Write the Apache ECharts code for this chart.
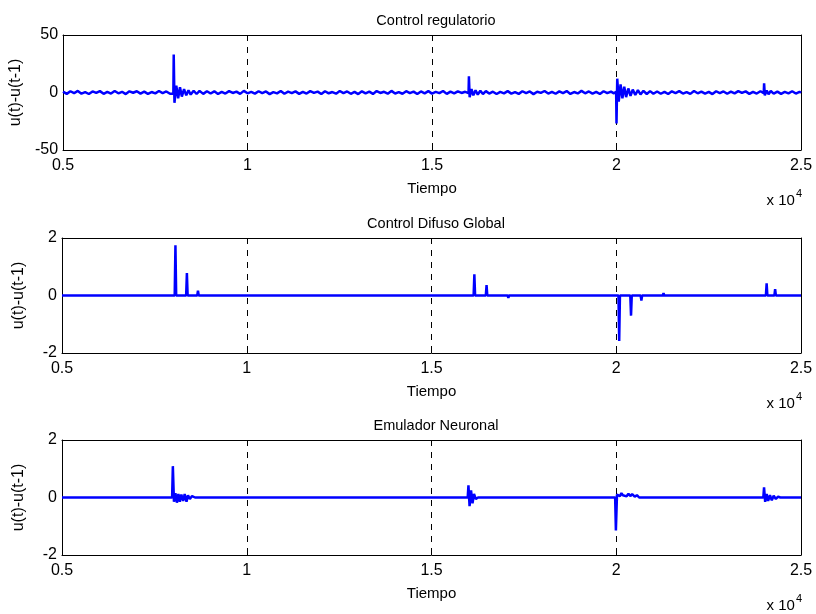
<!DOCTYPE html>
<html>
<head>
<meta charset="utf-8">
<script src="https://cdn.jsdelivr.net/npm/echarts@6/dist/echarts.min.js"></script>
<style>html,body{margin:0;padding:0;background:#fff}#c{width:816px;height:614px}</style>
</head>
<body>
<div id="c"></div>
<script>
const titles = ['Control regulatorio', 'Control Difuso Global', 'Emulador Neuronal'];
const xLabel = 'Tiempo';
const yLabel = 'u(t)-u(t-1)';
const xTicks = [5000, 10000, 15000, 20000, 25000];
const yRange1 = [-50, 50];
const yRange23 = [-2, 2];

// Control regulatorio: [t, u(t)-u(t-1)]
const regulatorio = [
 [5000,0.8],[5100,-1.2],[5200,1.1],[5300,-0.6],[5400,1.4],[5500,-1.0],[5600,0.3],[5700,-1.3],[5800,0.9],[5900,-0.4],
 [6000,1.2],[6100,-1.1],[6200,0.5],[6300,-0.9],[6400,1.3],[6500,-0.7],[6600,0.6],[6700,-1.4],[6800,1.0],[6900,-0.2],
 [7000,1.1],[7100,-1.0],[7200,0.7],[7300,-1.2],[7400,0.4],[7500,-0.8],[7600,1.3],[7700,-0.5],[7800,0.9],[7900,-1.1],
 [7990,-0.8],[8000,33],[8020,-9],[8070,6],[8120,-5],[8170,4.5],[8220,-3.5],[8280,3],[8340,-2.5],[8400,2],[8460,-1.8],
 [8540,1.5],[8620,-1.3],[8700,1.4],[8800,-1.2],[8900,1.1],[9000,-0.9],
 [9100,1.0],[9200,-1.3],[9300,0.6],[9400,-0.9],[9500,1.2],[9600,-0.4],[9700,0.8],[9800,-1.2],[9900,1.4],[10000,-0.7],
 [10100,0.5],[10200,-1.0],[10300,1.1],[10400,-0.6],[10500,0.9],[10600,-1.4],[10700,0.3],[10800,-0.8],[10900,1.3],[11000,-1.1],
 [11100,0.7],[11200,-0.5],[11300,1.0],[11400,-1.2],[11500,0.6],[11600,-0.9],[11700,1.2],[11800,-0.3],[11900,0.8],[12000,-1.3],
 [12100,1.1],[12200,-0.7],[12300,0.4],[12400,-1.0],[12500,1.3],[12600,-0.6],[12700,0.9],[12800,-1.1],[12900,0.5],[13000,-1.4],
 [13100,1.0],[13200,-0.8],[13300,0.7],[13400,-1.2],[13500,1.2],[13600,-0.4],[13700,0.6],[13800,-1.0],[13900,1.4],[14000,-0.9],
 [14100,0.3],[14200,-1.1],[14300,1.1],[14400,-0.5],[14500,0.8],[14600,-1.3],[14700,0.9],[14800,-0.7],[14900,1.2],[15000,-1.0],
 [15100,0.5],[15200,-0.6],[15300,1.3],[15400,-1.2],[15500,0.7],[15600,-0.8],[15700,1.0],[15800,-0.4],[15900,0.6],
 [15990,-0.5],[16000,14],[16020,-4],[16070,3],[16120,-2.5],[16180,2],[16240,-1.8],[16310,1.5],[16380,-1.3],[16460,1.2],
 [16550,-0.9],[16650,0.7],[16750,-1.3],[16850,0.5],[16950,-0.7],[17050,1.2],[17150,-1.0],[17250,0.4],[17350,-1.2],[17450,1.1],
 [17550,-0.6],[17650,0.9],[17750,-1.4],[17850,0.7],[17950,-0.3],[18050,1.3],[18150,-0.9],[18250,0.6],[18350,-1.1],[18450,1.0],
 [18550,-0.5],[18650,1.2],[18750,-1.2],[18850,0.4],[18950,-0.8],[19050,1.4],[19150,-0.7],[19250,0.9],[19350,-1.0],[19450,0.5],
 [19550,-1.3],[19650,1.1],[19750,-0.6],[19850,0.8],[19930,-0.7],
 [19990,0.6],[20000,-27],[20020,12],[20060,-8],[20110,7],[20160,-5],[20210,5],[20260,-4],[20320,3.5],[20380,-3],
 [20440,2.5],[20510,-2.2],[20580,2],[20650,-1.7],[20730,1.5],[20820,-1.3],[20910,1.2],[21000,-1.1],
 [21100,0.9],[21200,-1.1],[21300,0.6],[21400,-1.3],[21500,1.0],[21600,-0.5],[21700,1.2],[21800,-0.9],[21900,0.4],[22000,-1.2],
 [22100,1.3],[22200,-0.7],[22300,0.8],[22400,-1.0],[22500,0.5],[22600,-1.4],[22700,1.1],[22800,-0.6],[22900,0.9],[23000,-1.1],
 [23100,0.7],[23200,-0.8],[23300,1.2],[23400,-0.4],[23500,1.0],[23600,-1.2],[23700,0.6],[23800,-0.9],[23900,1.1],
 [23990,-0.6],[24000,8],[24020,-2.5],[24070,1.8],[24120,-1.5],[24180,1.3],
 [24260,-1.0],[24360,0.8],[24460,-1.2],[24560,0.5],[24660,-0.7],[24760,1.1],[24860,-0.9],[24960,0.6],[25000,-0.3]
];

// Control Difuso Global
const difuso = [
 [5000,0],[8050,0],[8070,1.75],[8090,0],[8360,0],[8380,0.78],[8400,0],[8660,0],[8680,0.17],[8700,0],
 [8950,0],[8970,-0.06],[9000,0],[9230,0],[9250,-0.06],[9280,0],
 [16140,0],[16160,0.74],[16180,0],[16470,0],[16490,0.36],[16510,0],[17060,0],[17080,-0.08],[17100,0],
 [20060,0],[20080,-1.58],[20100,0],[20380,0],[20400,-0.7],[20420,0],[20660,0],[20680,-0.18],[20700,0],
 [20960,0],[20980,0.05],[21000,0],[21260,0],[21280,0.08],[21300,0],
 [24050,0],[24070,0.42],[24090,0],[24280,0],[24300,0.22],[24320,0],[25000,0]
];

// Emulador Neuronal
const neuronal = [
 [5000,0],[7980,0],[8000,1.09],[8030,-0.15],[8070,0.15],[8110,-0.18],[8150,0.12],[8190,-0.15],[8230,0.1],
 [8280,-0.12],[8320,0.12],[8370,-0.15],[8410,0.08],[8460,-0.05],[8520,0.05],[8600,0],
 [15980,0],[16000,0.42],[16030,-0.3],[16070,0.25],[16110,-0.2],[16150,0.12],[16200,-0.05],[16260,0],
 [19970,0],[19990,-1.15],[20020,0.1],[20060,0.15],[20100,0.05],[20140,0.15],[20180,0.08],[20230,0.12],
 [20280,0.04],[20330,0.13],[20380,0.05],[20430,0.12],[20500,0.03],[20560,0.08],[20620,0],
 [23980,0],[24000,0.35],[24030,-0.15],[24070,0.12],[24110,-0.12],[24160,0.08],[24210,-0.1],[24260,0.06],
 [24320,-0.05],[24380,0.03],[24440,0],[25000,0]
];

const seriesData = [regulatorio, difuso, neuronal];
const yRanges = [yRange1, yRange23, yRange23];
const yIntervals = [50, 2, 2];

const FONT = 'Liberation Sans';
const tops = [35, 238, 440];
const H = 115;
const chart = echarts.init(document.getElementById('c'), null, {renderer: 'canvas'});

const grids = [], xAxes = [], yAxes = [], series = [], titleArr = [], graphics = [];
for (let i = 0; i < 3; i++) {
  grids.push({left: 62, right: 15, top: tops[i], height: H, show: false});
  xAxes.push({
    type: 'value', gridIndex: i, min: xTicks[0], max: xTicks[xTicks.length - 1], interval: 5000,
    position: 'bottom',
    name: xLabel, nameLocation: 'middle', nameGap: 31,
    nameTextStyle: {fontFamily: FONT, fontSize: 15, color: '#000'},
    axisLine: {show: true, onZero: false, lineStyle: {color: '#000', width: 1}},
    axisTick: {show: true, inside: true, length: 5, lineStyle: {color: '#000'}},
    axisLabel: {fontFamily: FONT, fontSize: 16, color: '#000', margin: 8,
      formatter: v => String(v / 10000)},
    splitLine: {show: true, lineStyle: {color: '#000', type: [6, 6], width: 1}}
  });
  xAxes.push({
    type: 'value', gridIndex: i, min: xTicks[0], max: xTicks[xTicks.length - 1], interval: 5000,
    position: 'top',
    axisLine: {show: true, onZero: false, lineStyle: {color: '#000', width: 1}},
    axisTick: {show: true, inside: true, length: 5, lineStyle: {color: '#000'}},
    axisLabel: {show: false}, splitLine: {show: false}
  });
  yAxes.push({
    type: 'value', gridIndex: i, min: yRanges[i][0], max: yRanges[i][1], interval: yIntervals[i],
    position: 'left',
    name: yLabel, nameLocation: 'middle', nameGap: 35, nameRotate: 90,
    nameTextStyle: {fontFamily: FONT, fontSize: 16, color: '#000'},
    axisLine: {show: true, onZero: false, lineStyle: {color: '#000', width: 1}},
    axisTick: {show: true, inside: true, length: 5, lineStyle: {color: '#000'}},
    axisLabel: {fontFamily: FONT, fontSize: 16, color: '#000', margin: 5},
    splitLine: {show: false}
  });
  yAxes.push({
    type: 'value', gridIndex: i, min: yRanges[i][0], max: yRanges[i][1], interval: yIntervals[i],
    position: 'right',
    axisLine: {show: true, onZero: false, lineStyle: {color: '#000', width: 1}},
    axisTick: {show: true, inside: true, length: 5, lineStyle: {color: '#000'}},
    axisLabel: {show: false}, splitLine: {show: false}
  });
  series.push({
    type: 'line', xAxisIndex: 2 * i, yAxisIndex: 2 * i, data: seriesData[i],
    showSymbol: false, symbol: 'none', animation: false,
    lineStyle: {color: '#0000ff', width: 2.5}, z: 5
  });
  titleArr.push({
    text: titles[i], left: 431, top: tops[i] - 27, textAlign: 'center',
    textStyle: {fontFamily: FONT, fontSize: 14.5, fontWeight: 'normal', color: '#000'}
  });
  graphics.push({
    type: 'text', right: 14, top: tops[i] + H + 38,
    style: {
      text: '{a|x 10}{b|4}', fill: '#000',
      rich: {
        a: {fontFamily: FONT, fontSize: 15, color: '#000', verticalAlign: 'bottom'},
        b: {fontFamily: FONT, fontSize: 11, color: '#000', verticalAlign: 'top', padding: [0, 0, 9, 1]}
      }
    }
  });
}

chart.setOption({
  animation: false,
  backgroundColor: '#fff',
  title: titleArr,
  grid: grids,
  xAxis: xAxes,
  yAxis: yAxes,
  series: series,
  graphic: graphics
});
</script>
</body>
</html>
